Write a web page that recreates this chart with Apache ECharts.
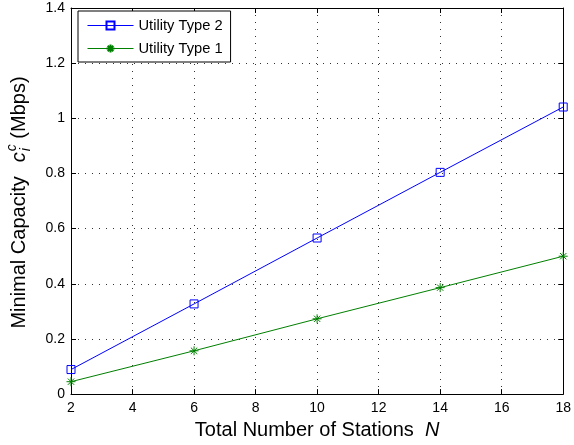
<!DOCTYPE html>
<html>
<head>
<meta charset="utf-8">
<script src="https://cdn.jsdelivr.net/npm/echarts@6/dist/echarts.min.js"></script>
<style>
html,body{margin:0;padding:0;background:#fff;}
#chart{width:574px;height:445px;}
</style>
</head>
<body>
<div id="chart"></div>
<script>
// ---- data ----
const stations = [2, 6, 10, 14, 18];
const utilityType2 = [0.089, 0.327, 0.566, 0.804, 1.041];
const utilityType1 = [0.045, 0.157, 0.273, 0.386, 0.500];
const seriesNames = ['Utility Type 2', 'Utility Type 1'];
const xTitle = 'Total Number of Stations';
const xTitleVar = 'N';
const yTitleMain = 'Minimal Capacity  ';
const yTitleVar = 'c';
const yTitleSup = 'c';
const yTitleSub = 'i';
const yTitleUnit = ' (Mbps)';

const FONT = '"Liberation Sans", Arial, sans-serif';
const chart = echarts.init(document.getElementById('chart'), null, {renderer: 'canvas'});

// measure text for the y-axis title layout
const mctx = document.createElement('canvas').getContext('2d');
function tw(t, font) { mctx.font = font; return mctx.measureText(t).width; }
const fMain = '20px ' + FONT, fIt = 'italic 20px ' + FONT, fSmall = 'italic 14px ' + FONT;
const w1 = tw(yTitleMain, fMain) + 3, wc = tw(yTitleVar, fIt),
      ws = Math.max(tw(yTitleSup, fSmall), tw(yTitleSub, fSmall)), w2 = tw(yTitleUnit, fMain);
const W = w1 + wc + ws + 1 + w2;
const gTop = 8, gBottom = 48;
const plotMidY = (gTop + (445 - gBottom)) / 2;

const squarePath = 'path://M0,0L1,0L1,1L0,1Z';
const starPath = 'path://M0,-1L0,1M-1,0L1,0M-0.7,-0.7L0.7,0.7M-0.7,0.7L0.7,-0.7';

const tickCommon = {show: true, inside: true, length: 5, lineStyle: {color: '#000', width: 1}};
const axisLineCommon = {show: true, onZero: false, lineStyle: {color: '#000', width: 1}};
const splitCommon = {show: true, lineStyle: {color: '#333', width: 1, type: [1, 6]}};

const option = {
  backgroundColor: '#fff',
  animation: false,
  grid: {left: 71, right: 10, top: gTop, bottom: gBottom, containLabel: false},
  legend: {
    data: seriesNames,
    orient: 'vertical',
    left: 78, top: 11,
    padding: [7, 8, 6, 9],
    itemGap: 8,
    itemWidth: 46,
    itemHeight: 10,
    backgroundColor: '#fff',
    borderColor: '#000',
    borderWidth: 1,
    borderRadius: 0,
    lineStyle: {width: 1},
    textStyle: {fontFamily: FONT, fontSize: 14.7, color: '#000'}
  },
  xAxis: [{
    type: 'value', min: 2, max: 18, interval: 2, position: 'bottom',
    axisLine: axisLineCommon, axisTick: tickCommon,
    axisLabel: {margin: 7, fontFamily: FONT, fontSize: 14, color: '#000'},
    splitLine: splitCommon,
    name: '{a|' + xTitle + '  }{b|' + xTitleVar + '}',
    nameLocation: 'middle', nameGap: 20,
    nameTextStyle: {
      fontFamily: FONT, fontSize: 20, color: '#000',
      rich: {a: {fontFamily: FONT, fontSize: 20, color: '#000'},
             b: {fontFamily: FONT, fontSize: 20, fontStyle: 'italic', color: '#000'}}
    }
  }, {
    type: 'value', min: 2, max: 18, interval: 2, position: 'top',
    axisLine: axisLineCommon, axisTick: tickCommon,
    axisLabel: {show: false}, splitLine: {show: false}
  }],
  yAxis: [{
    type: 'value', min: 0, max: 1.4, interval: 0.2, position: 'left',
    axisLine: axisLineCommon, axisTick: tickCommon,
    axisLabel: {margin: 6, fontFamily: FONT, fontSize: 14, color: '#000',
      formatter: v => (Math.round(v * 10) / 10).toString()},
    splitLine: splitCommon
  }, {
    type: 'value', min: 0, max: 1.4, interval: 0.2, position: 'right',
    axisLine: axisLineCommon, axisTick: tickCommon,
    axisLabel: {show: false}, splitLine: {show: false}
  }],
  graphic: [{
    type: 'group',
    x: 19, y: plotMidY + W / 2,
    rotation: Math.PI / 2,
    children: [
      {type: 'text', x: 0, y: 0, style: {text: yTitleMain, font: fMain, fill: '#000', align: 'left', verticalAlign: 'middle'}},
      {type: 'text', x: w1, y: 0, style: {text: yTitleVar, font: fIt, fill: '#000', align: 'left', verticalAlign: 'middle'}},
      {type: 'text', x: w1 + wc + 1, y: -7, style: {text: yTitleSup, font: fSmall, fill: '#000', align: 'left', verticalAlign: 'middle'}},
      {type: 'text', x: w1 + wc + 1, y: 7, style: {text: yTitleSub, font: fSmall, fill: '#000', align: 'left', verticalAlign: 'middle'}},
      {type: 'text', x: w1 + wc + ws + 1, y: 0, style: {text: yTitleUnit, font: fMain, fill: '#000', align: 'left', verticalAlign: 'middle'}}
    ]
  }],
  series: [{
    name: seriesNames[0], type: 'line',
    data: stations.map((x, i) => [x, utilityType2[i]]),
    symbol: squarePath, symbolSize: 8,
    lineStyle: {color: '#0000ff', width: 1},
    itemStyle: {color: 'rgba(0,0,0,0)', borderColor: '#0000ff', borderWidth: 1},
    z: 3
  }, {
    name: seriesNames[1], type: 'line',
    data: stations.map((x, i) => [x, utilityType1[i]]),
    symbol: starPath, symbolSize: 9,
    lineStyle: {color: '#008000', width: 1},
    itemStyle: {color: '#008000', borderColor: '#008000', borderWidth: 1},
    z: 3
  }]
};
chart.setOption(option);
</script>
</body>
</html>
